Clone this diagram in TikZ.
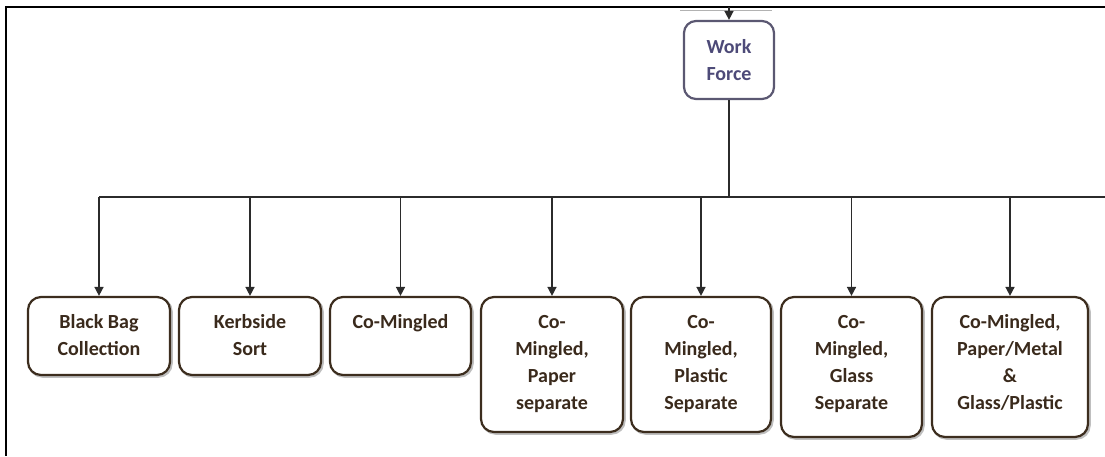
\documentclass[tikz,border=0pt]{standalone}
\usepackage{fontspec}
\setmainfont{Carlito}
\usetikzlibrary{arrows.meta}
\definecolor{boxline}{HTML}{3C2D1E}
\definecolor{boxtext}{HTML}{3A2A1C}
\definecolor{wfline}{HTML}{5B5872}
\definecolor{wftext}{HTML}{4D4A78}
\definecolor{wire}{HTML}{2B2B2B}
\newcommand{\boxtxt}[3]{\parbox[c][#2pt][t]{#1pt}{\centering\rule{0pt}{31pt}#3}}
\tikzset{
  catbox/.style={draw=boxline, line width=2.2pt, rounded corners=13pt, fill=white,
    inner sep=0pt, text=boxtext, font=\bfseries\fontsize{20}{27}\selectfont,
    preaction={draw=black!25, line width=2.5pt, transform canvas={xshift=1.5pt,yshift=-1.5pt}}},
  topbox/.style={draw=wfline, line width=2.2pt, rounded corners=12pt, fill=white,
    minimum width=90pt, minimum height=78pt, inner sep=0pt, align=center,
    text=wftext, font=\bfseries\fontsize{20}{27}\selectfont},
  wirestyle/.style={draw=wire, line width=1.5pt},
  arr/.style={wirestyle, -{Triangle[length=9pt,width=9pt]}},
  frame/.style={draw=black, line width=1.8pt}
}
\begin{document}
\begin{tikzpicture}[x=1pt,y=-1pt]
\useasboundingbox (0,0) rectangle (1105,456);
% outer frame (top and left edges)
\coordinate (fTL) at (6,7);
\coordinate (fTR) at (1105,7);
\coordinate (fBL) at (6,456);
\draw[frame] (fTR) -- (fTL) -- (fBL);
\draw[black!30, line width=1pt] (680,10) -- (772,10);

% root
\node[topbox] (wf) at (729,60) {Work\\Force};
\coordinate (src) at (729,7);
\draw[arr] (src) -- (wf.north);

% categories
\node[catbox] (b1) at (99,336)   {\boxtxt{142}{78}{Black Bag\\Collection}};
\node[catbox] (b2) at (250,336)  {\boxtxt{142}{78}{Kerbside\\Sort}};
\node[catbox] (b3) at (400.5,336){\boxtxt{141}{78}{Co-Mingled}};
\node[catbox] (b4) at (552,364.5){\boxtxt{142}{135}{Co-\\Mingled,\\Paper\\separate}};
\node[catbox] (b5) at (701,364.5){\boxtxt{140}{135}{Co-\\Mingled,\\Plastic\\Separate}};
\node[catbox] (b6) at (851.5,367){\boxtxt{141}{140}{Co-\\Mingled,\\Glass\\Separate}};
\node[catbox] (b7) at (1010,367) {\boxtxt{156}{140}{Co-Mingled,\\Paper/Metal\\\&\\Glass/Plastic}};

% distribution bus
\coordinate (busR) at (1105,197);
\draw[wirestyle] (wf.south) -- (wf.south |- busR);
\draw[wirestyle] (b1.north |- busR) -- (busR);
\foreach \b in {b1,b2,b3,b4,b5,b6,b7}
  \draw[arr] (\b.north |- busR) -- (\b.north);
\end{tikzpicture}
\end{document}
